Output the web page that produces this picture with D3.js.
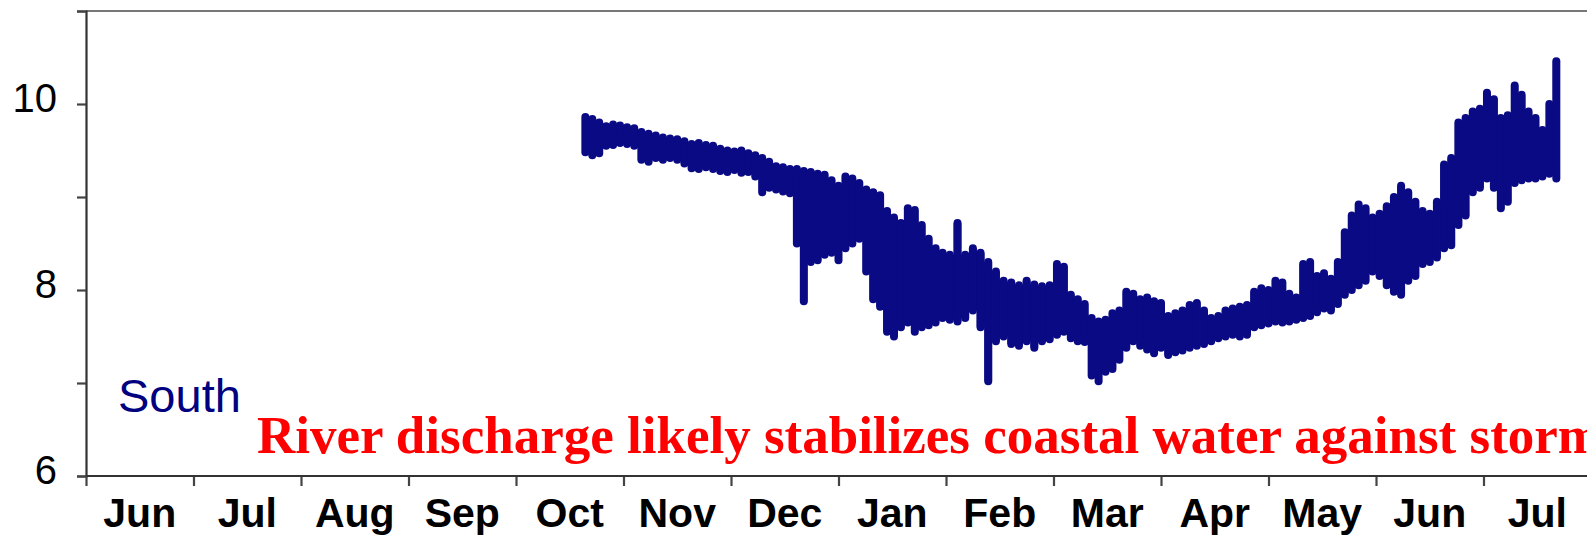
<!DOCTYPE html>
<html>
<head>
<meta charset="utf-8">
<script src="https://cdn.jsdelivr.net/npm/d3@7"></script>
<style>
  html, body { margin: 0; padding: 0; background: #fff; overflow: hidden; }
  svg { display: block; }
</style>
</head>
<body>
<svg id="chart" width="1587" height="535"></svg>
<script>
// Month boundaries shown on the time axis (equally spaced months)
const monthStarts = d3.timeMonth.range(new Date(2012, 5, 1), new Date(2013, 7, 2));
const monthLabels = ["Jun", "Jul", "Aug", "Sep", "Oct", "Nov", "Dec", "Jan", "Feb", "Mar", "Apr", "May", "Jun", "Jul"];

// y axis ticks
const yTicks = [6, 7, 8, 9, 10, 11];
const yTickLabels = ["6", "", "8", "", "10", ""];

// Observations: daily range (min/max) sampled every two days from 21 Oct 2012
const seriesStart = new Date(2012, 9, 21);
const seriesStepDays = 2;
const seriesHigh = [
  9.86, 9.84, 9.80, 9.76, 9.78, 9.77, 9.75, 9.74, 9.70, 9.68,
  9.66, 9.64, 9.63, 9.62, 9.60, 9.57, 9.58, 9.56, 9.55, 9.52,
  9.50, 9.49, 9.50, 9.47, 9.45, 9.42, 9.38, 9.33, 9.32, 9.30,
  9.30, 9.28, 9.27, 9.25, 9.24, 9.18, 9.12, 9.22, 9.20, 9.15,
  9.08, 9.05, 9.02, 8.85, 8.78, 8.72, 8.88, 8.86, 8.70, 8.55,
  8.45, 8.40, 8.38, 8.72, 8.38, 8.45, 8.40, 8.30, 8.20, 8.10,
  8.08, 8.05, 8.10, 8.06, 8.04, 8.05, 8.28, 8.25, 7.95, 7.90,
  7.85, 7.70, 7.66, 7.68, 7.75, 7.78, 7.98, 7.96, 7.90, 7.92,
  7.88, 7.86, 7.72, 7.75, 7.78, 7.84, 7.86, 7.78, 7.70, 7.72,
  7.78, 7.80, 7.82, 7.84, 7.98, 8.02, 8.00, 8.10, 8.08, 7.96,
  7.92, 8.28, 8.30, 8.15, 8.18, 8.12, 8.30, 8.62, 8.80, 8.92,
  8.88, 8.78, 8.82, 8.90, 9.00, 9.12, 9.05, 8.95, 8.85, 8.82,
  8.95, 9.35, 9.42, 9.80, 9.85, 9.92, 9.95, 10.12, 10.05, 9.85,
  9.88, 10.20, 10.10, 9.92, 9.85, 9.72, 10.00, 10.46
];
const seriesLow = [
  9.48, 9.45, 9.47, 9.55, 9.56, 9.58, 9.57, 9.55, 9.40, 9.38,
  9.42, 9.40, 9.42, 9.40, 9.36, 9.31, 9.30, 9.32, 9.30, 9.28,
  9.27, 9.29, 9.26, 9.27, 9.22, 9.05, 9.10, 9.08, 9.06, 9.04,
  8.50, 7.88, 8.30, 8.32, 8.38, 8.40, 8.32, 8.45, 8.50, 8.55,
  8.20, 7.90, 7.82, 7.55, 7.50, 7.60, 7.65, 7.55, 7.60, 7.62,
  7.65, 7.70, 7.68, 7.66, 7.70, 7.78, 7.60, 7.02, 7.45, 7.50,
  7.42, 7.40, 7.45, 7.38, 7.45, 7.47, 7.52, 7.55, 7.48, 7.45,
  7.44, 7.08, 7.02, 7.12, 7.15, 7.25, 7.38, 7.45, 7.40, 7.36,
  7.32, 7.38, 7.30, 7.33, 7.35, 7.38, 7.40, 7.42, 7.45, 7.48,
  7.50, 7.52, 7.50, 7.52, 7.60, 7.62, 7.64, 7.66, 7.65, 7.66,
  7.68, 7.70, 7.72, 7.76, 7.80, 7.78, 7.85, 7.95, 8.00, 8.05,
  8.10, 8.20, 8.15, 8.05, 7.98, 7.95, 8.10, 8.15, 8.28, 8.30,
  8.35, 8.45, 8.48, 8.70, 8.80, 9.05, 9.10, 9.20, 9.10, 8.88,
  8.95, 9.15, 9.18, 9.20, 9.20, 9.22, 9.25, 9.20
];

const svg = d3.select("#chart");
const plotLeft = 86, plotTop = 11, plotBottom = 476, monthWidth = 107.5;
const cloudColor = "#0a0a84";

// Months are drawn with equal widths, so the time scale is piecewise
const x = d3.scaleTime()
  .domain(monthStarts)
  .range(monthStarts.map((d, i) => plotLeft + i * monthWidth));

const y = d3.scaleLinear().domain([6, 11]).range([plotBottom, plotTop]);

const data = seriesHigh.map((hi, i) => ({
  date: d3.timeDay.offset(seriesStart, i * seriesStepDays),
  high: hi,
  low: seriesLow[i]
}));

// Observation cloud: a filled band between the daily extremes...
const band = d3.area()
  .x(d => x(d.date))
  .y0(d => y(d.low))
  .y1(d => y(d.high))
  .curve(d3.curveStep);
const cloud = svg.append("g");
cloud.append("path")
  .datum(data)
  .attr("d", band)
  .attr("fill", cloudColor);

// ...with each day's spread drawn as a round-ended stroke
cloud.selectAll("line")
  .data(data)
  .join("line")
  .attr("x1", d => x(d.date))
  .attr("x2", d => x(d.date))
  .attr("y1", d => y(d.high))
  .attr("y2", d => y(d.low))
  .attr("stroke", cloudColor)
  .attr("stroke-width", 8)
  .attr("stroke-linecap", "round");

// Top frame line
svg.append("line")
  .attr("x1", plotLeft).attr("x2", 1587)
  .attr("y1", y(11)).attr("y2", y(11))
  .attr("stroke", "#777").attr("stroke-width", 2);

// Left axis
const yAxis = d3.axisLeft(y).tickValues(yTicks).tickSize(9)
  .tickFormat((d, i) => yTickLabels[i]).tickPadding(0);
const gy = svg.append("g").attr("transform", `translate(${plotLeft},0)`).call(yAxis);
gy.select(".domain").attr("stroke", "#333").attr("stroke-width", 2.2);
gy.selectAll(".tick line").attr("stroke", "#444").attr("stroke-width", 2.2);
gy.selectAll(".tick text")
  .attr("x", -29).attr("dy", 7)
  .attr("font-family", "Liberation Sans, Arial, sans-serif")
  .attr("font-size", 40).attr("fill", "#000");

// Bottom axis: ticks at month boundaries, labels mid-month
const xAxis = d3.axisBottom(x).tickValues(monthStarts).tickSize(10).tickFormat("");
const gx = svg.append("g").attr("transform", `translate(0,${plotBottom})`).call(xAxis);
gx.select(".domain").remove();
gx.selectAll(".tick line").attr("stroke", "#444").attr("stroke-width", 2.2);
gx.append("line")
  .attr("x1", plotLeft).attr("x2", 1587)
  .attr("stroke", "#333").attr("stroke-width", 2.2);

const labelDates = monthStarts.slice(0, monthLabels.length)
  .map(d => new Date((+d + +d3.timeMonth.offset(d, 1)) / 2));
svg.append("g")
  .selectAll("text")
  .data(labelDates)
  .join("text")
  .attr("x", d => x(d))
  .attr("y", 527)
  .attr("text-anchor", "middle")
  .attr("font-family", "Liberation Sans, Arial, sans-serif")
  .attr("font-weight", "bold")
  .attr("font-size", 41)
  .attr("fill", "#000")
  .text((d, i) => monthLabels[i]);

// Station name
svg.append("text")
  .attr("x", 118).attr("y", 412)
  .attr("font-family", "Liberation Sans, Arial, sans-serif")
  .attr("font-size", 47)
  .attr("fill", "#000080")
  .text("South");

// Annotation
svg.append("text")
  .attr("x", 257).attr("y", 453)
  .attr("font-family", "Liberation Serif, Times New Roman, serif")
  .attr("font-weight", "bold")
  .attr("font-size", 53)
  .attr("fill", "#ff0000")
  .text("River discharge likely stabilizes coastal water against storms");
</script>
</body>
</html>
